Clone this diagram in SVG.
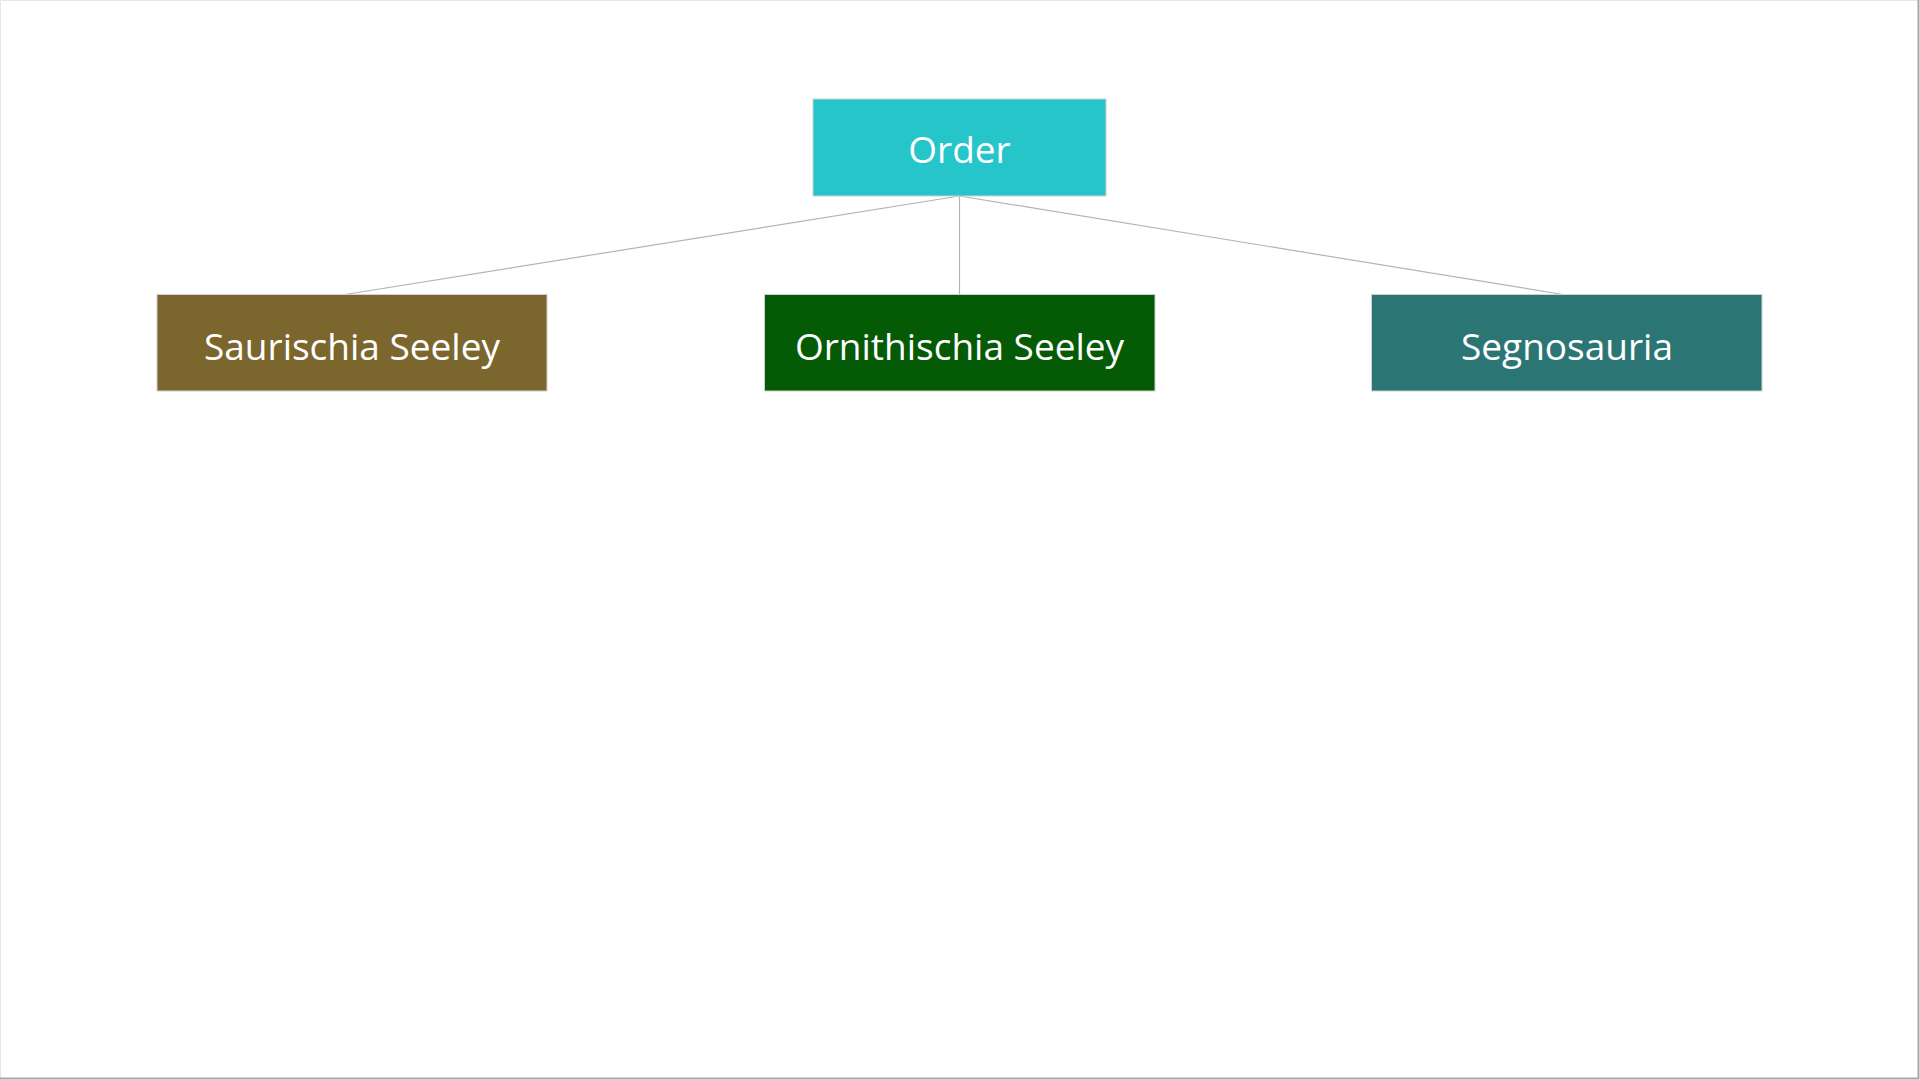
<svg xmlns="http://www.w3.org/2000/svg" width="1920" height="1080" viewBox="0 0 1920 1080">
<style>
.node rect{stroke:#d0d0d0;stroke-width:1}
.node text{font-family:"Open Sans","Noto Sans","Liberation Sans",sans-serif;font-size:37px;fill:#ffffff;text-anchor:middle}
.conn line{stroke:#b4b4b4;stroke-width:1.2}
</style>
<rect x="0" y="0" width="1920" height="1080" fill="#ffffff"/>
<path d="M0.5,1079 V0.5 H1919" fill="none" stroke="#e6e6e6" stroke-width="1"/>
<path d="M1918.5,0 V1078.5 H0" fill="none" stroke="#a8a8a8" stroke-width="2"/>
<g id="connectors" class="conn">
<line x1="959.5" y1="196" x2="345" y2="294.5"/>
<line x1="959.5" y1="196" x2="959.5" y2="294.5"/>
<line x1="959.5" y1="196" x2="1563" y2="294.5"/>
</g>
<g id="node-order" class="node">
<rect x="813" y="99" width="293" height="97" fill="#26C5C9"/>
<text x="959.5" y="163">Order</text>
</g>
<g id="node-saurischia" class="node">
<rect x="157" y="294.5" width="390" height="96.5" fill="#7B672E"/>
<text x="352" y="360">Saurischia Seeley</text>
</g>
<g id="node-ornithischia" class="node">
<rect x="764.5" y="294.5" width="390.5" height="96.5" fill="#055A05"/>
<text x="959.5" y="360">Ornithischia Seeley</text>
</g>
<g id="node-segnosauria" class="node">
<rect x="1371.5" y="294.5" width="390.5" height="96.5" fill="#2C7575"/>
<text x="1567" y="360">Segnosauria</text>
</g>
</svg>
